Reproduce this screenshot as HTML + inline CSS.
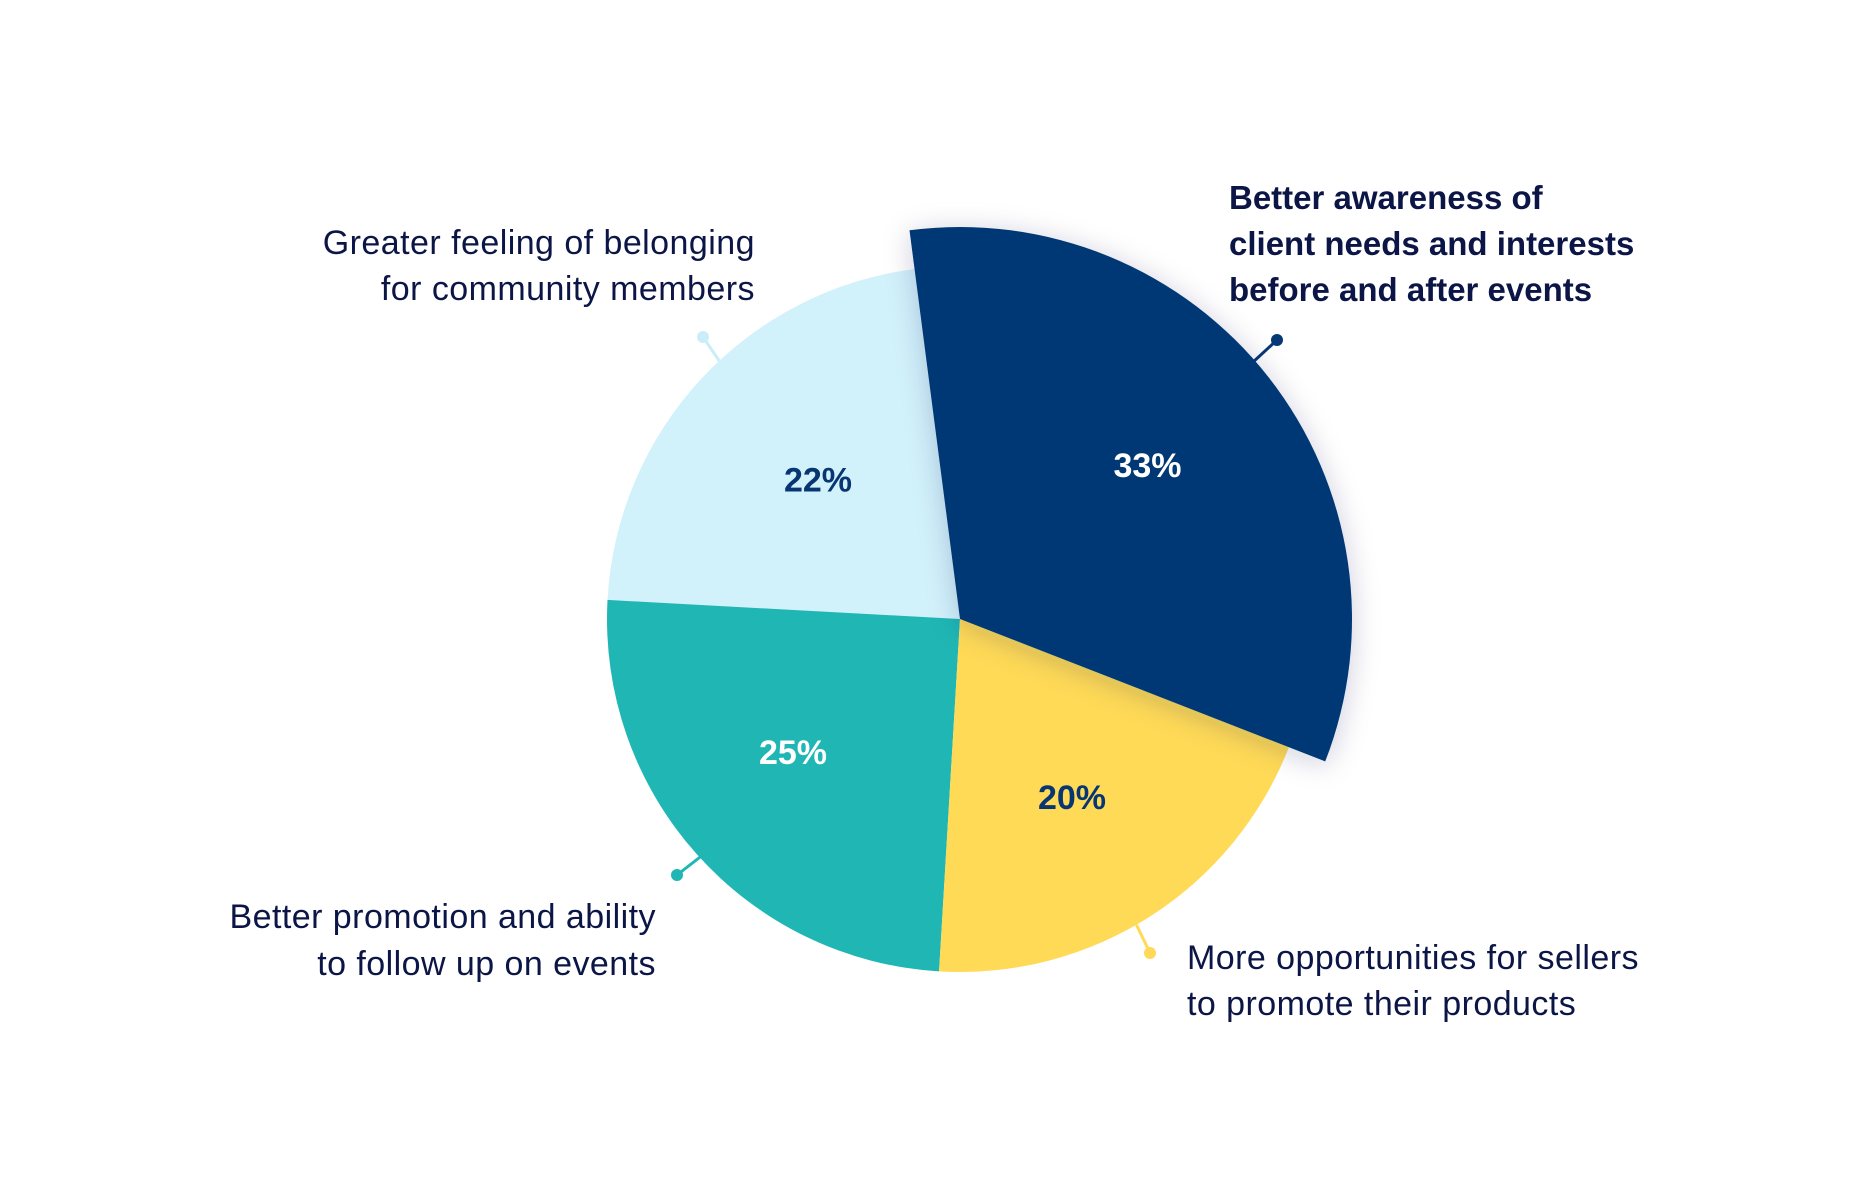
<!DOCTYPE html>
<html>
<head>
<meta charset="utf-8">
<style>
html,body{margin:0;padding:0;background:#ffffff;}
svg{display:block;}
text{font-family:"Liberation Sans", Arial, sans-serif;}
</style>
</head>
<body>
<svg width="1872" height="1200" viewBox="0 0 1872 1200" xmlns="http://www.w3.org/2000/svg">
  <defs>
    <filter id="sh" x="-30%" y="-30%" width="160%" height="160%">
      <feDropShadow dx="0" dy="4" stdDeviation="14" flood-color="#0a2050" flood-opacity="0.2"/>
    </filter>
  </defs>
  <rect width="1872" height="1200" fill="#ffffff"/>

  <!-- connectors -->
  <g stroke-width="3" stroke-linecap="round">
    <line x1="703" y1="337" x2="720" y2="362" stroke="#C9EEFA"/>
    <circle cx="703" cy="337" r="6" fill="#C9EEFA"/>
    <line x1="677" y1="875" x2="704" y2="854" stroke="#1FB6B4"/>
    <circle cx="677" cy="875" r="6" fill="#1FB6B4"/>
    <line x1="1150" y1="953" x2="1137" y2="926" stroke="#FFD957"/>
    <circle cx="1150" cy="953" r="6" fill="#FFD957"/>
    <line x1="1277" y1="340" x2="1252" y2="363" stroke="#063875"/>
    <circle cx="1277" cy="340" r="6" fill="#063875"/>
  </g>

  <!-- pie slices -->
  <path d="M960,619 L607.52,599.91 A353,353 0 0 1 914.53,268.94 Z" fill="#D1F1FB"/>
  <path d="M960,619 L939.06,971.38 A353,353 0 0 1 607.52,599.91 Z" fill="#1FB6B4"/>
  <path d="M960,619 L1288.89,747.23 A353,353 0 0 1 939.06,971.38 Z" fill="#FFDA57"/>
  <path d="M960,619 L909.51,230.27 A392,392 0 0 1 1325.22,761.39 Z" fill="#063875" filter="url(#sh)"/>

  <!-- percentages -->
  <g font-weight="bold" font-size="34" text-anchor="middle">
    <text x="1147.5" y="477" fill="#ffffff">33%</text>
    <text x="818" y="491.5" fill="#073673">22%</text>
    <text x="793" y="764" fill="#ffffff">25%</text>
    <text x="1072" y="809" fill="#073673">20%</text>
  </g>

  <!-- labels -->
  <g fill="#0B1646">
    <g font-weight="bold" font-size="33">
      <text x="1229" y="209">Better awareness of</text>
      <text x="1229" y="255">client needs and interests</text>
      <text x="1229" y="301">before and after events</text>
    </g>
    <g font-size="34" text-anchor="end" letter-spacing="0.45">
      <text x="755" y="254">Greater feeling of belonging</text>
      <text x="755" y="300">for community members</text>
      <text x="656" y="928">Better promotion and ability</text>
      <text x="656" y="975">to follow up on events</text>
    </g>
    <g font-size="34" letter-spacing="0.45">
      <text x="1187" y="969">More opportunities for sellers</text>
      <text x="1187" y="1015">to promote their products</text>
    </g>
  </g>
</svg>
</body>
</html>
